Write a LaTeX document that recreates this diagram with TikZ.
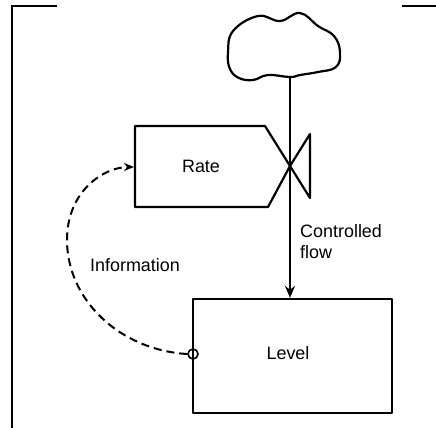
\documentclass[tikz,border=0pt]{standalone}
\usepackage{fontspec}
\setmainfont{Liberation Sans}
\usetikzlibrary{arrows.meta}
\begin{document}
\begin{tikzpicture}[x=1bp,y=-1bp,
  ln/.style={line width=2.2bp,line join=round},
  lbl/.style={font=\fontsize{18}{21}\selectfont,inner sep=0pt},
  infoline/.style={line width=2bp,dash pattern=on 8bp off 5bp,-{Stealth[length=10bp,width=8bp]}}]
\useasboundingbox (0,0) rectangle (436,428);
\fill[white] (0,0) rectangle (436,428);
% frame lines
\draw[line width=2.2bp] (57,6) -- (12,6) -- (12,428);
\draw[line width=2.2bp] (402,6) -- (436,6);
% cloud
\draw[ln] plot[smooth cycle,tension=0.7] coordinates {(233,31) (258,16) (280,21) (300,13) (318,26) (334,36) (340,52) (336,67) (318,72) (300,75) (290,77) (268,75) (253,80) (239,78) (230,69) (228,53)};
\coordinate (cloudb) at (290,77);
% rate
\coordinate (valve) at (290,166);
\draw[ln] (135,126) -- (265,126) -- (valve) -- (268,207) -- (135,207) -- cycle;
\draw[ln] (valve) -- (310,134) -- (310,198) -- cycle;
\node[lbl] (rate) at (201,166) {Rate};
\coordinate (rateL) at (134,167);
% level
\node[draw,ln,minimum width=199bp,minimum height=114bp,inner sep=0pt] (level) at (292.5,356) {};
\node[lbl] (leveltxt) at (288,353) {Level};
% flow
\draw[line width=2.6bp] (cloudb) -- (valve);
\draw[line width=2.6bp,-{Stealth[length=12bp,width=10bp]}] (valve) -- (level.north -| valve);
\node[lbl,anchor=west,align=left] (cf) at (300,242) {Controlled\\flow};
% information
\node[draw,line width=1.6bp,circle,minimum size=10bp,inner sep=0pt] (tap) at (193,354) {};
\coordinate (bend) at (67,240);
\draw[infoline] (tap.west) .. controls (120,350) and (67,300) .. (bend) .. controls (67,190) and (105,167) .. (rateL);
\node[lbl] (info) at (135,265) {Information};
\end{tikzpicture}
\end{document}
